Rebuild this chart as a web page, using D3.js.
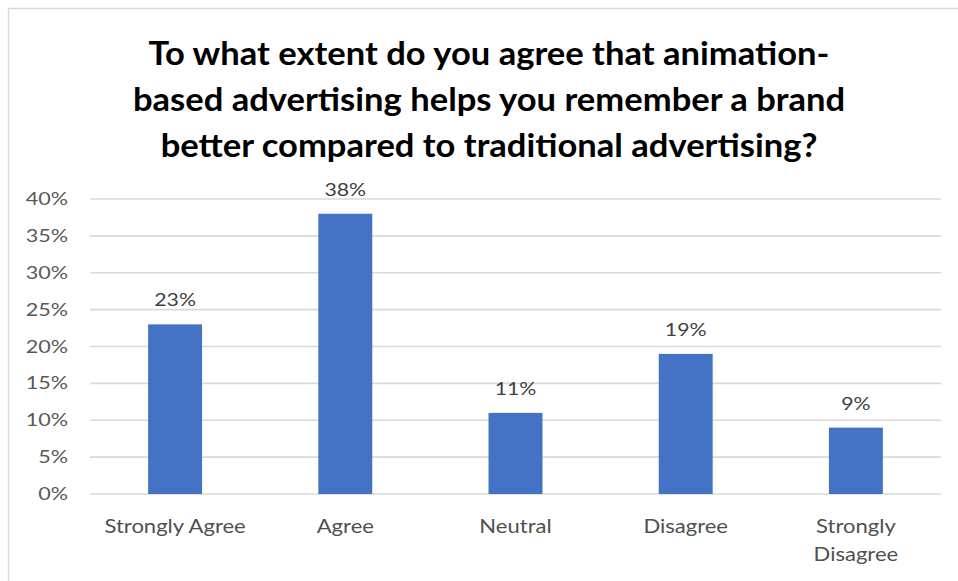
<!DOCTYPE html>
<html>
<head>
<meta charset="utf-8">
<script src="https://cdn.jsdelivr.net/npm/d3@7"></script>
<style>
  html, body { margin: 0; padding: 0; background: #fff; }
  svg { display: block; }
</style>
</head>
<body>
<svg id="chart" width="958" height="581"></svg>
<script>
// Survey responses
const categories = ["Strongly Agree", "Agree", "Neutral", "Disagree", "Strongly Disagree"];
const values = [23, 38, 11, 19, 9];
const yTicks = [0, 5, 10, 15, 20, 25, 30, 35, 40];
const titleLines = [
  "To what extent do you agree that animation-",
  "based advertising helps you remember a brand",
  "better compared to traditional advertising?"
];

const W = 958, H = 581;
const margin = { left: 90, right: 17, top: 199, bottom: 87 };
const font = "Lato, 'Open Sans', sans-serif";

const svg = d3.select("#chart");

// draws a horizontally widened text label anchored at (x, y)
function label(parent, x, y, str, opts) {
  const g = parent.append("g")
    .attr("transform", `translate(${x},${y}) scale(${opts.sx},1)`);
  return g.append("text")
    .attr("x", 0).attr("y", 0)
    .attr("text-anchor", opts.anchor || "middle")
    .attr("font-family", font)
    .attr("font-size", opts.size)
    .attr("font-weight", opts.weight || "normal")
    .attr("fill", opts.fill)
    .text(str);
}

// chart frame
svg.append("rect")
  .attr("x", 8.5).attr("y", 8.5)
  .attr("width", W + 10).attr("height", H + 10)
  .attr("fill", "#fff").attr("stroke", "#d9d9d9").attr("stroke-width", 1.5);

const x = d3.scaleBand()
  .domain(categories)
  .range([margin.left, W - margin.right])
  .paddingInner(0.683).paddingOuter(0.3415);

const y = d3.scaleLinear()
  .domain([0, 40])
  .range([H - margin.bottom, margin.top]);

// gridlines
svg.append("g")
  .selectAll("line")
  .data(yTicks)
  .join("line")
  .attr("x1", margin.left).attr("x2", W - margin.right)
  .attr("y1", d => y(d)).attr("y2", d => y(d))
  .attr("stroke", "#d9d9d9").attr("stroke-width", 1.6);

// y axis labels
const gy = svg.append("g");
yTicks.forEach(t => {
  label(gy, 68, y(t) + 6, t + "%", { sx: 1.27, size: 17, fill: "#595959", anchor: "end" });
});

// bars
svg.append("g")
  .selectAll("rect")
  .data(values)
  .join("rect")
  .attr("x", (d, i) => x(categories[i]))
  .attr("width", x.bandwidth())
  .attr("y", d => y(d))
  .attr("height", d => y(0) - y(d))
  .attr("fill", "#4472c4");

// value labels
const gv = svg.append("g");
values.forEach((v, i) => {
  label(gv, x(categories[i]) + x.bandwidth() / 2, y(v) - 18, v + "%",
    { sx: 1.25, size: 17, fill: "#404040" });
});

// category labels ("Strongly Disagree" wraps onto two lines)
const gx = svg.append("g");
categories.forEach(c => {
  const cx = x(c) + x.bandwidth() / 2;
  const lines = (c.length > 15) ? c.split(" ") : [c];
  lines.forEach((ln, k) => {
    label(gx, cx, y(0) + 39 + k * 28, ln, { sx: 1.16, size: 19, fill: "#505050" });
  });
});

// title
const gt = svg.append("g");
titleLines.forEach((ln, k) => {
  label(gt, 489, 65 + k * 46, ln, { sx: 1.08, size: 32, weight: "bold", fill: "#000" });
});
</script>
</body>
</html>
